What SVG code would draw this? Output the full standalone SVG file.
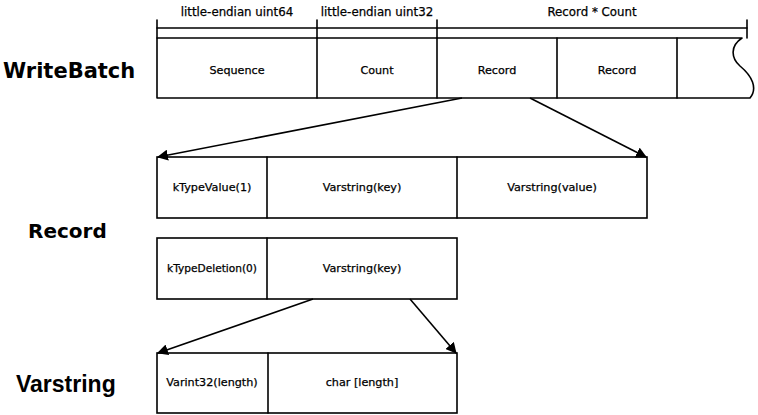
<svg xmlns="http://www.w3.org/2000/svg" width="758" height="415" viewBox="0 0 758 415">
<defs>
<style>
.ln{fill:none;stroke:#000;stroke-width:1.6;stroke-linecap:round;stroke-linejoin:round}
.bx{fill:#fff;stroke:#000;stroke-width:1.6}
.t{font-family:"DejaVu Sans","Noto Sans",sans-serif;font-size:11.2px;fill:#000;stroke:#000;stroke-width:0.25;text-anchor:middle}
.hd{font-size:11.8px}
.h{font-family:"DejaVu Sans","Noto Sans",sans-serif;font-weight:bold;fill:#000}
.a{fill:none;stroke:#000;stroke-width:1.6}
</style>
<marker id="ah" viewBox="0 0 10 10" refX="9" refY="5" markerWidth="11" markerHeight="11" markerUnits="userSpaceOnUse" orient="auto">
<path d="M0,0 L10,5 L0,10 Z" fill="#000"/>
</marker>
</defs>
<rect width="758" height="415" fill="#fff"/>

<g id="labels">
<text class="h" x="3" y="78" style="font-size:21px">WriteBatch</text>
<text class="h" x="28" y="238" style="font-size:20px">Record</text>
<text x="16" y="392" style="font-family:'Liberation Sans',Arial,sans-serif;font-weight:bold;font-size:23px;fill:#000">Varstring</text>
</g>

<g id="header">
<line class="ln" x1="157" y1="20" x2="157" y2="38"/>
<line class="ln" x1="317" y1="20" x2="317" y2="38"/>
<line class="ln" x1="437" y1="20" x2="437" y2="38"/>
<line class="ln" x1="747" y1="20" x2="747" y2="38"/>
<line class="ln" x1="157" y1="28" x2="747" y2="28"/>
<text class="t hd" x="237" y="16">little-endian uint64</text>
<text class="t hd" x="377" y="16">little-endian uint32</text>
<text class="t hd" x="592" y="16">Record * Count</text>
</g>

<g id="writebatch">
<path class="ln" d="M157,38 L742,38 C730,46 731,58 740,66 C752,76 758,88 750,98 L157,98 Z" fill="#fff"/>
<line class="ln" x1="317" y1="38" x2="317" y2="98"/>
<line class="ln" x1="437" y1="38" x2="437" y2="98"/>
<line class="ln" x1="557" y1="38" x2="557" y2="98"/>
<line class="ln" x1="677" y1="38" x2="677" y2="98"/>
<text class="t" x="237" y="74">Sequence</text>
<text class="t" x="377" y="74">Count</text>
<text class="t" x="497" y="74">Record</text>
<text class="t" x="617" y="74">Record</text>
</g>

<g id="record-value">
<rect class="bx" x="157" y="157" width="490" height="61"/>
<line class="ln" x1="267" y1="157" x2="267" y2="218"/>
<line class="ln" x1="457" y1="157" x2="457" y2="218"/>
<text class="t" x="212" y="191">kTypeValue(1)</text>
<text class="t" x="362" y="191">Varstring(key)</text>
<text class="t" x="552" y="191">Varstring(value)</text>
</g>

<g id="record-deletion">
<rect class="bx" x="157" y="238" width="300" height="61"/>
<line class="ln" x1="267" y1="238" x2="267" y2="299"/>
<text class="t" x="212" y="272" style="font-size:10.6px">kTypeDeletion(0)</text>
<text class="t" x="362" y="272">Varstring(key)</text>
</g>

<g id="varstring">
<rect class="bx" x="157" y="353" width="300" height="60"/>
<line class="ln" x1="268" y1="353" x2="268" y2="413"/>
<text class="t" x="212" y="386">Varint32(length)</text>
<text class="t" x="362" y="386">char [length]</text>
</g>

<g id="connectors">
<line class="a" x1="462" y1="98" x2="158" y2="157" marker-end="url(#ah)"/>
<line class="a" x1="530" y1="98" x2="646" y2="157" marker-end="url(#ah)"/>
<line class="a" x1="313" y1="299" x2="158" y2="353" marker-end="url(#ah)"/>
<line class="a" x1="410" y1="299" x2="456" y2="353" marker-end="url(#ah)"/>
</g>
</svg>
